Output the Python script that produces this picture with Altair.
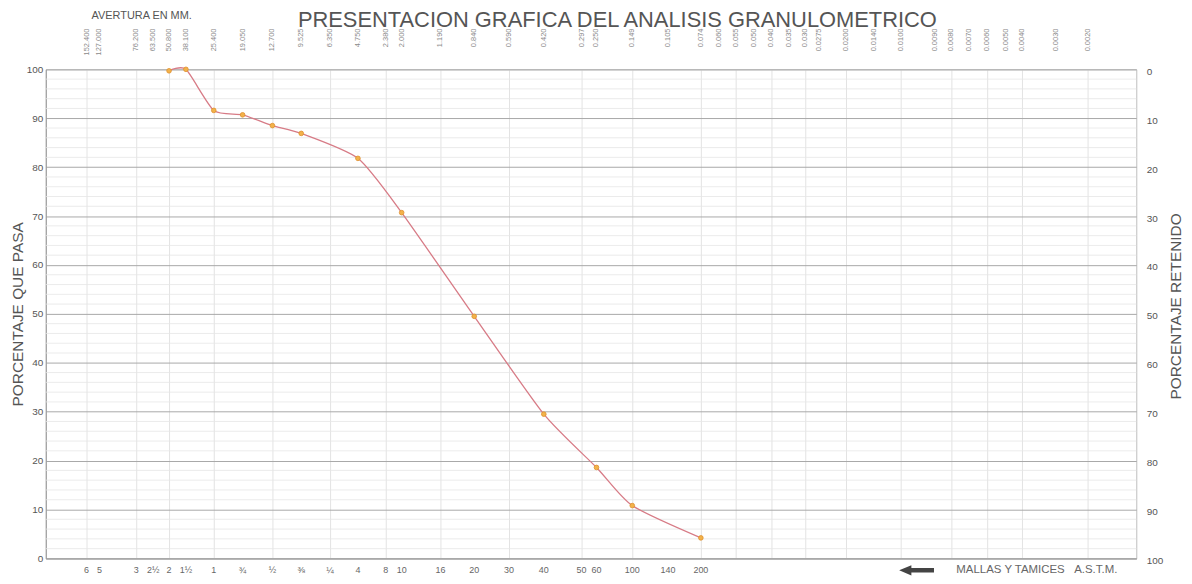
import altair as alt
import pandas as pd

# ---------------- data ----------------
# sieve openings (mm) printed along the top of the template
opening_mm = [152.4, 127.0, 76.2, 63.5, 50.8, 38.1, 25.4, 19.05, 12.7, 9.525, 6.35, 4.75,
              2.38, 2.0, 1.19, 0.84, 0.59, 0.42, 0.297, 0.25, 0.149, 0.105, 0.074, 0.060,
              0.055, 0.050, 0.040, 0.035, 0.030, 0.0275, 0.0200, 0.0140, 0.0100, 0.0090,
              0.0080, 0.0070, 0.0060, 0.0050, 0.0040, 0.0030, 0.0020]
opening_labels = ["152.400", "127.000", "76.200", "63.500", "50.800", "38.100", "25.400",
                  "19.050", "12.700", "9.525", "6.350", "4.750", "2.380", "2.000", "1.190",
                  "0.840", "0.590", "0.420", "0.297", "0.250", "0.149", "0.105", "0.074",
                  "0.060", "0.055", "0.050", "0.040", "0.035", "0.030", "0.0275", "0.0200",
                  "0.0140", "0.0100", "0.0090", "0.0080", "0.0070", "0.0060", "0.0050",
                  "0.0040", "0.0030", "0.0020"]

# ASTM sieve designations along the bottom
astm_mm = [152.4, 127.0, 76.2, 63.5, 50.8, 38.1, 25.4, 19.05, 12.7, 9.525, 6.35, 4.75,
           2.38, 2.0, 1.19, 0.84, 0.59, 0.42, 0.297, 0.25, 0.149, 0.105, 0.074]
astm_labels = ["6", "5", "3", "2½", "2", "1½", "1", "¾", "½", "⅜", "¼", "4", "8", "10",
               "16", "20", "30", "40", "50", "60", "100", "140", "200"]

# test result: percentage passing
test_mm = [50.8, 38.1, 25.4, 19.05, 12.7, 9.525, 4.75, 2.0, 0.84, 0.42, 0.25, 0.149, 0.074]
test_pass = [99.7, 100.0, 91.6, 90.7, 88.5, 86.9, 81.8, 70.7, 49.5, 29.5, 18.6, 10.8, 4.2]

major_y = list(range(0, 101, 10))
minor_y = [v for v in range(0, 101, 2) if v % 10 != 0]

# ---------------- layout of the printed template ----------------
W, H = 1097, 492
# the printed form spaces the sieves irregularly: piecewise scale (mm -> px)
ruling_px = [41, 54, 91, 108, 124, 141, 169, 198, 228, 257, 286, 314, 342, 358, 397, 431,
             466, 501, 539, 554, 590, 626, 659, 677, 694, 712, 730, 748, 764, 778, 805, 833,
             860, 895, 911, 929, 947, 966, 982, 1016, 1048]
xscale = alt.Scale(domain=[250.0] + opening_mm + [0.001], range=[0] + ruling_px + [W],
                   nice=False, zero=False)
yscale = alt.Scale(domain=[0, 100], nice=False, zero=True)

FONT = "Liberation Sans"
test_df = pd.DataFrame({"mm": test_mm, "pass": test_pass})
open_df = pd.DataFrame({"mm": opening_mm, "lbl": opening_labels})
astm_df = pd.DataFrame({"mm": astm_mm, "lbl": astm_labels})
minor_df = pd.DataFrame({"v": minor_y})

minor = alt.Chart(minor_df).mark_rule(color="#e6e6e6", strokeWidth=0.8).encode(
    y=alt.Y("v:Q", scale=yscale, axis=None)
)

line = alt.Chart(test_df).mark_line(color="#d77b86", strokeWidth=1.3,
                                    interpolate="cardinal", tension=0.35).encode(
    x=alt.X("mm:Q", scale=xscale,
            axis=alt.Axis(values=opening_mm, grid=True, gridColor="#dcdcdc",
                          gridWidth=0.8, labels=False, ticks=False, domainColor="#9a9a9a",
                          title=None)),
    y=alt.Y("pass:Q", scale=yscale,
            axis=alt.Axis(values=major_y, grid=True, gridColor="#a8a8a8", gridWidth=1,
                          ticks=False, domainColor="#9a9a9a", labelColor="#555555",
                          labelFontSize=10, labelPadding=3, title="PORCENTAJE QUE PASA",
                          titleFontSize=15.5, titleFontWeight="normal",
                          titleColor="#555555", titleX=-28, titleY=H / 2,
                          titleAngle=270, titleAlign="center", titleBaseline="middle")),
)

points = alt.Chart(test_df).mark_point(filled=True, size=22, color="#f2b24a",
                                       stroke="#e0902e", strokeWidth=0.8,
                                       opacity=1).encode(
    x=alt.X("mm:Q", scale=xscale),
    y=alt.Y("pass:Q", scale=yscale, axis=None),
)

right_axis = alt.Chart(test_df).mark_point(opacity=0).encode(
    x=alt.X("mm:Q", scale=xscale),
    y=alt.Y("pass:Q", scale=yscale,
            axis=alt.Axis(orient="right", values=major_y, labelExpr="100 - datum.value",
                          grid=False, ticks=False, domain=False, labelColor="#555555",
                          labelFontSize=10, labelPadding=10, labelOffset=2,
                          title="PORCENTAJE RETENIDO", titleAngle=270,
                          titleFontSize=15.5, titleFontWeight="normal",
                          titleColor="#555555", titleX=39, titleY=H / 2 - 8,
                          titleAlign="center", titleBaseline="middle")),
)

top_text = alt.Chart(open_df).mark_text(angle=270, align="right", baseline="middle",
                                        fontSize=7.5, color="#8a8a8a", font=FONT).encode(
    x=alt.X("mm:Q", scale=xscale),
    y=alt.value(-41),
    text="lbl:N",
)

bottom_text = alt.Chart(astm_df).mark_text(baseline="middle", fontSize=9,
                                           color="#666666", font=FONT).encode(
    x=alt.X("mm:Q", scale=xscale),
    y=alt.value(H + 12),
    text="lbl:N",
)

title = alt.Chart(pd.DataFrame({"t": ["PRESENTACION GRAFICA DEL ANALISIS GRANULOMETRICO"]})
                  ).mark_text(fontSize=22, color="#555555", font=FONT, align="center",
                              baseline="alphabetic").encode(
    x=alt.value(575), y=alt.value(-43), text="t:N")

avertura = alt.Chart(pd.DataFrame({"t": ["AVERTURA EN MM."]})).mark_text(
    fontSize=11, color="#555555", font=FONT, align="left", baseline="middle").encode(
    x=alt.value(46), y=alt.value(-54), text="t:N")

arrow = alt.Chart(pd.DataFrame({"t": [1]})).mark_point(
    shape="M-1,0L-0.3,-0.3L-0.3,-0.13L1,-0.13L1,0.13L-0.3,0.13L-0.3,0.3Z",
    filled=True, size=1225, color="#444444", opacity=1, strokeWidth=0).encode(
    x=alt.value(876), y=alt.value(H + 12))

mallas = alt.Chart(pd.DataFrame({"t": ["MALLAS Y TAMICES\u00a0\u00a0\u00a0A.S.T.M."]})
                   ).mark_text(fontSize=11.5, color="#666666", font=FONT, align="left",
                               baseline="middle").encode(
    x=alt.value(916), y=alt.value(H + 12), text="t:N")

chart = alt.layer(minor, line, points, right_axis, top_text, bottom_text, title,
                  avertura, arrow, mallas).resolve_scale(y="independent").properties(
    width=W, height=H,
    autosize=alt.AutoSizeParams(type="none"),
    padding={"left": 38, "top": 60, "right": 48, "bottom": 20},
).configure(font=FONT).configure_view(stroke="#bdbdbd", strokeWidth=1)

chart.save("out.html", embed_options={"renderer": "svg", "actions": False})
